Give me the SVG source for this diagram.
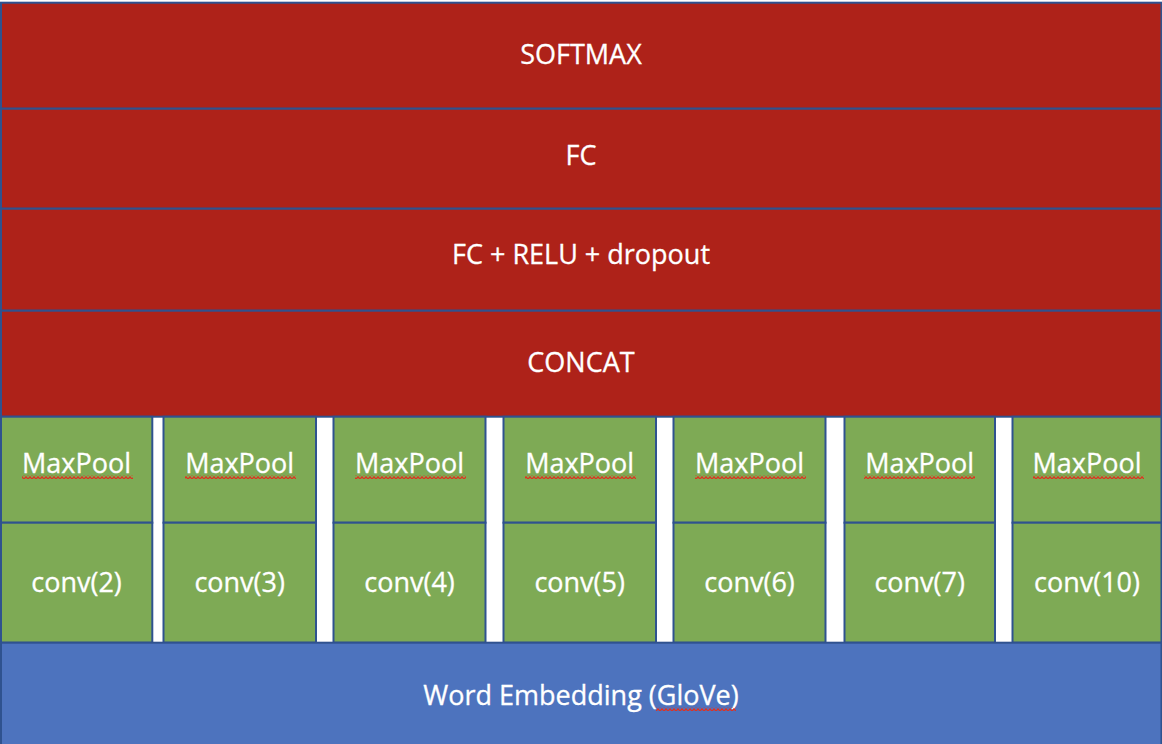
<svg xmlns="http://www.w3.org/2000/svg" width="1162" height="744" viewBox="0 0 1162 744">
<style>
.red{fill:#AE2219;stroke:#2F528F;stroke-width:2}
.grn{fill:#7EAA55;stroke:#2F528F;stroke-width:2}
.blu{fill:#4D73BE;stroke:#2F528F;stroke-width:2}
text{font-family:"Open Sans","Noto Sans",sans-serif;font-size:27px;fill:#fff;text-anchor:middle;stroke:#fff;stroke-width:0.3}
.sq{fill:url(#squig)}
</style>
<defs>
<pattern id="squig" x="0" y="0" width="4" height="4" patternUnits="userSpaceOnUse">
<path d="M0,3.2 L2,0.8 L4,3.2" fill="none" stroke="#E03020" stroke-width="1.3"/>
</pattern>
</defs>
<rect width="1162" height="744" fill="#fff"/>
<g id="softmax"><rect class="red" x="1" y="2.7" width="1160.5" height="106"/><text x="581" y="64">SOFTMAX</text></g>
<g id="fc"><rect class="red" x="1" y="108.7" width="1160.5" height="100"/><text x="581" y="165">FC</text></g>
<g id="fc-relu"><rect class="red" x="1" y="208.7" width="1160.5" height="102"/><text x="581" y="264">FC + RELU + dropout</text></g>
<g id="concat"><rect class="red" x="1" y="310.7" width="1160.5" height="106"/><text x="581" y="372">CONCAT</text></g>

<g id="col1">
<rect class="grn" x="1" y="416.7" width="151.3" height="106"/><text x="76.5" y="473">MaxPool</text><rect class="sq" x="22" y="475" width="111" height="4"/>
<rect class="grn" x="1" y="522.7" width="151.3" height="120"/><text x="76.5" y="592">conv(2)</text>
</g>
<g id="col2">
<rect class="grn" x="163.5" y="416.7" width="152.5" height="106"/><text x="239.7" y="473">MaxPool</text><rect class="sq" x="185" y="475" width="111" height="4"/>
<rect class="grn" x="163.5" y="522.7" width="152.5" height="120"/><text x="239.7" y="592">conv(3)</text>
</g>
<g id="col3">
<rect class="grn" x="333.5" y="416.7" width="152" height="106"/><text x="409.5" y="473">MaxPool</text><rect class="sq" x="355" y="475" width="111" height="4"/>
<rect class="grn" x="333.5" y="522.7" width="152" height="120"/><text x="409.5" y="592">conv(4)</text>
</g>
<g id="col4">
<rect class="grn" x="503.5" y="416.7" width="152.5" height="106"/><text x="579.7" y="473">MaxPool</text><rect class="sq" x="525" y="475" width="111" height="4"/>
<rect class="grn" x="503.5" y="522.7" width="152.5" height="120"/><text x="579.7" y="592">conv(5)</text>
</g>
<g id="col5">
<rect class="grn" x="673.5" y="416.7" width="152" height="106"/><text x="749.5" y="473">MaxPool</text><rect class="sq" x="695" y="475" width="111" height="4"/>
<rect class="grn" x="673.5" y="522.7" width="152" height="120"/><text x="749.5" y="592">conv(6)</text>
</g>
<g id="col6">
<rect class="grn" x="844.5" y="416.7" width="150.5" height="106"/><text x="919.7" y="473">MaxPool</text><rect class="sq" x="864" y="475" width="111" height="4"/>
<rect class="grn" x="844.5" y="522.7" width="150.5" height="120"/><text x="919.7" y="592">conv(7)</text>
</g>
<g id="col7">
<rect class="grn" x="1012.5" y="416.7" width="149" height="106"/><text x="1087" y="473">MaxPool</text><rect class="sq" x="1033" y="475" width="111" height="4"/>
<rect class="grn" x="1012.5" y="522.7" width="149" height="120"/><text x="1087" y="592">conv(10)</text>
</g>

<g id="embedding"><rect class="blu" x="1" y="642.7" width="1160.5" height="103"/><text x="581" y="705">Word Embedding (GloVe)</text><rect class="sq" x="656" y="707" width="80" height="4"/></g>
<g id="connectors"></g>
</svg>
